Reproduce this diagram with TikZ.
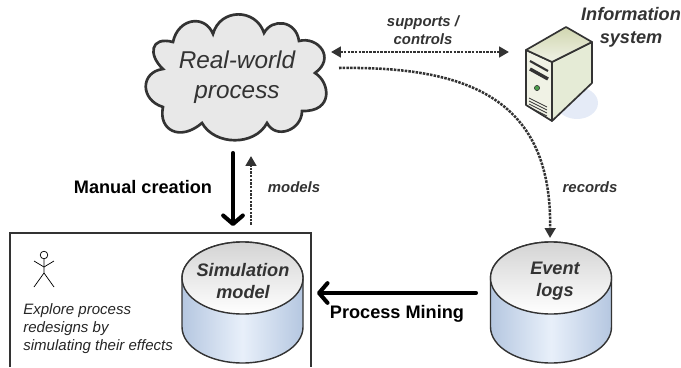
\documentclass[tikz,border=0pt]{standalone}
\usepackage{fontspec}
\setmainfont{Liberation Sans}
\usetikzlibrary{arrows.meta}
\definecolor{inkgray}{gray}{0.2}
\definecolor{sideblue}{rgb}{0.71,0.78,0.88}
\definecolor{sidepale}{rgb}{0.91,0.94,0.98}
\definecolor{caseface}{rgb}{0.94,0.95,0.90}
\definecolor{caseside}{rgb}{0.90,0.92,0.84}
\definecolor{casetop}{rgb}{0.82,0.84,0.69}
\definecolor{caseshadow}{rgb}{0.90,0.92,0.97}
\tikzstyle{bigtext} = [font=\fontsize{17.3}{21}\selectfont\itshape, text=inkgray, align=center, inner sep=0pt]
\tikzstyle{dbtext} = [font=\fontsize{12.9}{15.6}\selectfont\bfseries\itshape, text=inkgray, align=center, inner sep=0pt]
\tikzstyle{flowtext} = [font=\fontsize{10.6}{12.8}\selectfont\bfseries\itshape, text=inkgray, align=center, inner sep=0pt]
\tikzstyle{steptext} = [font=\fontsize{12.9}{15}\selectfont\bfseries, align=center, inner sep=0pt]
\tikzstyle{logical} = [draw=inkgray, line width=1.8pt, dash pattern=on 1.8pt off 0.8pt, -{Triangle[length=7pt,width=7.5pt]}]
\tikzstyle{manual} = [draw=black, line width=2.9pt, line cap=round, -{Straight Barb[round,length=6pt,width=14pt]}]
\begin{document}
\begin{tikzpicture}[x=0.025cm, y=-0.025cm]
    \useasboundingbox (0, 0) rectangle (681, 367);

    % analysis box, runs off the bottom
    \draw[draw=inkgray, line width=0.8pt] (10, 367) |- (311, 233) -- (311, 367);

    % cloud
    \draw[draw=inkgray, fill=black!9, line width=1.9pt] (213, 34)
        .. controls (220, 8) and (256, 8) .. (264, 33)
        .. controls (272, 18) and (296, 20) .. (299, 41)
        .. controls (318, 36) and (336, 58) .. (315, 73)
        .. controls (330, 82) and (334, 112) .. (302, 111)
        .. controls (302, 130) and (276, 140) .. (267, 123)
        .. controls (255, 146) and (215, 146) .. (202, 123)
        .. controls (180, 142) and (158, 130) .. (163, 107)
        .. controls (140, 100) and (140, 72) .. (163, 69)
        .. controls (148, 55) and (150, 36) .. (173, 42)
        .. controls (178, 18) and (205, 14) .. (213, 34) -- cycle;
    \node[bigtext, name=process] at (237, 77) {Real-world\\process};

    % server
    \fill[caseshadow] (577, 103) ellipse [x radius=21, y radius=16];
    \draw[draw=inkgray, fill=caseface, line width=1.2pt, line join=round]
        (526, 50) -- (552, 62) -- (552, 121) -- (526, 105) -- cycle;
    \draw[draw=inkgray, fill=caseside, line width=1.2pt, line join=round]
        (552, 62) -- (592, 42) -- (592, 83) -- (552, 121) -- cycle;
    \draw[draw=inkgray, top color=casetop, bottom color=caseface, line width=1.2pt, line join=round]
        (526, 50) -- (566, 27) -- (592, 42) -- (552, 62) -- cycle;
    \draw[inkgray, line width=1.5pt] (530, 61) -- (548, 71);
    \draw[inkgray, line width=2.4pt] (530, 69) -- (548, 79);
    \fill[green!45!black!70!white, draw=inkgray, line width=0.4pt] (537, 88) circle [radius=2.6];
    \foreach \gap in {0, 3, 6, 9}
        \draw[inkgray, line width=0.5pt] (529, 98+\gap) -- (547, 107+\gap);
    \node[dbtext, font=\fontsize{12.9}{16.4}\selectfont\bfseries\itshape, name=infosys] at (631, 27) {Information\\system};

    % the two stores
    \foreach \cx in {242.5, 551} {
        \path[draw=inkgray, left color=sideblue, right color=sideblue, middle color=sidepale, line width=1pt]
            (\cx-60.5, 278) -- (\cx-60.5, 327) arc [x radius=60.5, y radius=36, start angle=180, end angle=0]
            -- (\cx+60.5, 278) arc [x radius=60.5, y radius=36, start angle=0, end angle=-180] -- cycle;
        \path[draw=inkgray, top color=black!17, bottom color=white, line width=1pt]
            (\cx, 278) ellipse [x radius=60.5, y radius=36];
    }
    \node[dbtext, name=simulation] at (243, 281) {Simulation\\model};
    \node[dbtext, name=logs] at (555, 281) {Event\\logs};

    % actor
    \draw[black, line width=0.5pt] (44, 255) circle [radius=3.8];
    \coordinate (actor_neck) at (44, 259);
    \coordinate (actor_hip) at (44, 273);
    \draw[black, line width=0.5pt] (actor_neck) -- (actor_hip) -- (34, 287);
    \draw[black, line width=0.5pt] (actor_hip) -- (54, 287);
    \draw[black, line width=0.5pt] (34, 261) -- (44, 267) -- (54, 261);
    \node[anchor=north west, align=left, inner sep=0pt, name=explore,
        font=\fontsize{10.7}{12.8}\selectfont\itshape, text=black!85] at (23, 303)
        {Explore process\\redesigns by\\simulating their effects};

    % connector ends
    \coordinate (cloud_east) at (331, 52);
    \coordinate (cloud_log) at (339, 68);
    \coordinate (server_west) at (509, 52);
    \coordinate (logs_top) at (550, 238);
    \coordinate (logs_west) at (476, 293);
    \coordinate (box_east) at (317, 293);
    \coordinate (cloud_south) at (233, 153);
    \coordinate (sim_top) at (233, 226);
    \coordinate (models_from) at (251, 225);
    \coordinate (models_to) at (251, 156);

    \draw[logical, {Triangle[length=7pt,width=7.5pt]}-{Triangle[length=7pt,width=7.5pt]}] (cloud_east) -- (server_west);
    \draw[logical] (cloud_log) .. controls (470, 66) and (552, 100) .. (logs_top);
    \draw[logical] (models_from) -- (models_to);
    \draw[manual] (cloud_south) -- (sim_top);
    \draw[manual] (logs_west) -- (box_east);

    \node[flowtext, name=supports] at (423, 30) {supports /\\controls};
    \node[flowtext, name=records] at (590, 187) {records};
    \node[flowtext, name=models] at (294, 187) {models};
    \node[steptext, name=creation] at (143, 187) {Manual creation};
    \node[steptext, name=mining] at (397, 314) {Process Mining};
\end{tikzpicture}
\end{document}
